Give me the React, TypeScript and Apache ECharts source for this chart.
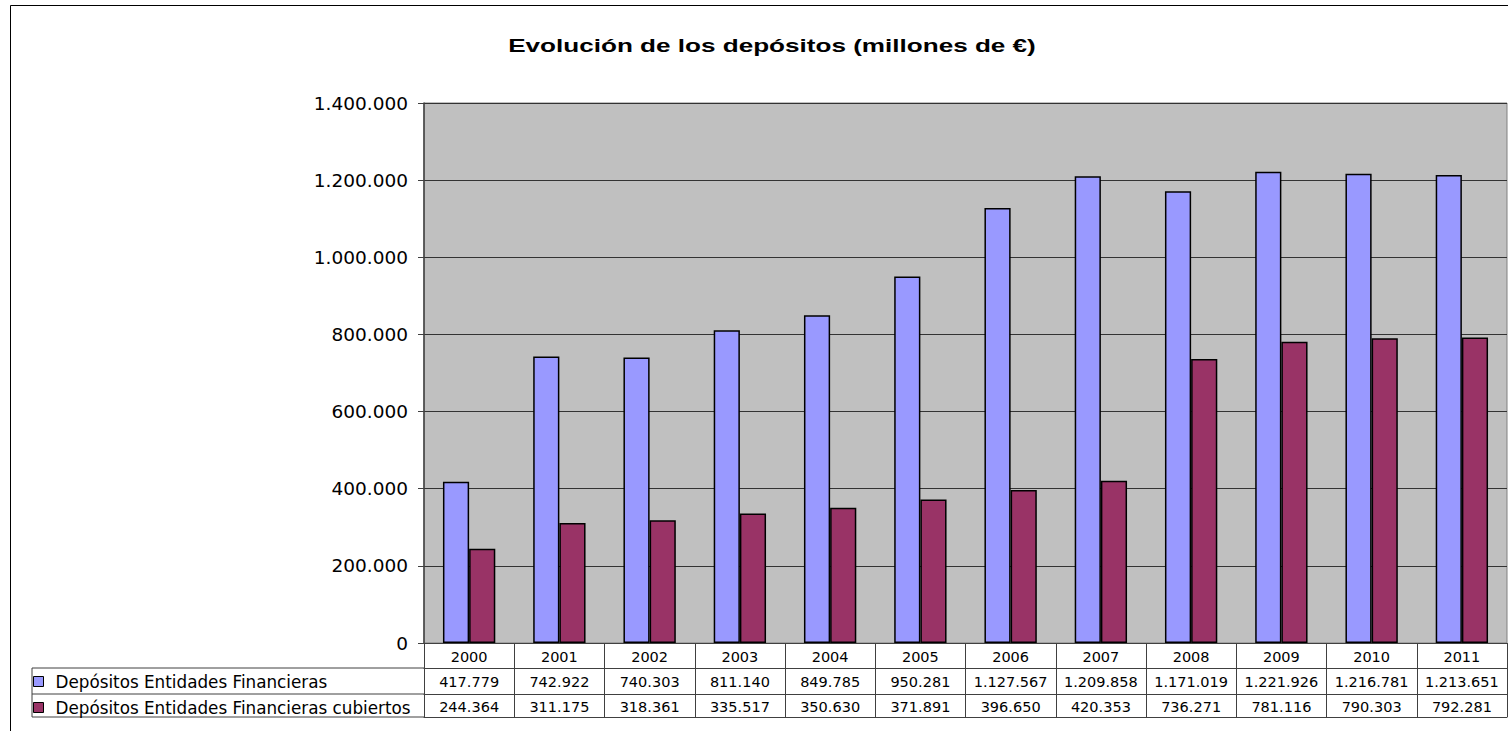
import React, { useEffect, useRef } from "react";
import * as echarts from "echarts";

const years = ["2000", "2001", "2002", "2003", "2004", "2005", "2006", "2007", "2008", "2009", "2010", "2011"];
const depositos = [417779, 742922, 740303, 811140, 849785, 950281, 1127567, 1209858, 1171019, 1221926, 1216781, 1213651];
const cubiertos = [244364, 311175, 318361, 335517, 350630, 371891, 396650, 420353, 736271, 781116, 790303, 792281];
const seriesNames = ["Depósitos Entidades Financieras", "Depósitos Entidades Financieras cubiertos"];
const title = "Evolución de los depósitos (millones de €)";

const fmt = (v: number) => String(v).replace(/\B(?=(\d{3})+(?!\d))/g, ".");
const FONT = "'Liberation Sans', Arial, Helvetica, sans-serif";
const WFONT = "'DejaVu Sans', 'Liberation Sans', Arial, sans-serif";
const LINE = "#404040";

export default function App() {
  const ref = useRef<HTMLDivElement>(null);
  useEffect(() => {
    if (!ref.current) return;
    const chart = echarts.init(ref.current, undefined, { renderer: "svg" });
    const tableAxis = (offset: number, tickLen: number, labels: ((i: number) => string) | null, margin: number) => ({
      type: "category" as const,
      data: years,
      position: "bottom" as const,
      gridIndex: 0,
      offset,
      boundaryGap: true,
      axisLine: { show: true, lineStyle: { color: LINE, width: 1 } },
      axisTick: { show: tickLen > 0, length: tickLen, alignWithLabel: false, interval: 0, lineStyle: { color: LINE, width: 1 } },
      axisLabel: {
        show: !!labels,
        interval: 0,
        margin,
        color: "#000",
        fontSize: 14.5,
        fontFamily: WFONT,
        formatter: (_v: string, i: number) => (labels ? labels(i) : ""),
      },
      splitLine: { show: false },
    });
    chart.setOption({
      animation: false,
      backgroundColor: "#fff",
      grid: {
        left: 424,
        right: 1,
        top: 103,
        bottom: 88,
        show: true,
        backgroundColor: "#C0C0C0",
        borderColor: "#808080",
        borderWidth: 1,
      },
      legend: {
        orient: "vertical",
        left: 28,
        top: 668,
        itemWidth: 10,
        itemHeight: 10,
        itemGap: 9,
        icon: "rect",
        selectedMode: false,
        itemStyle: { borderColor: "#000", borderWidth: 1 },
        textStyle: { fontSize: 16.8, lineHeight: 16, fontFamily: WFONT, color: "#000", padding: [0, 0, 0, 7] },
        data: seriesNames,
      },
      xAxis: [
        tableAxis(0, 25, (i) => years[i], 6),
        tableAxis(25, 26, (i) => fmt(depositos[i]), 6),
        tableAxis(51, 23, (i) => fmt(cubiertos[i]), 5),
        tableAxis(74, 0, null, 5),
      ],
      yAxis: {
        type: "value",
        min: 0,
        max: 1400000,
        interval: 200000,
        axisLine: { show: true, lineStyle: { color: LINE, width: 1.5 } },
        axisTick: { show: true, length: 6, lineStyle: { color: LINE } },
        axisLabel: { color: "#000", fontSize: 18.5, fontFamily: WFONT, margin: 16, formatter: (v: number) => fmt(v) },
        splitLine: { show: true, lineStyle: { color: "#333", width: 1 } },
      },
      series: [
        {
          name: seriesNames[0],
          type: "bar",
          xAxisIndex: 0,
          data: depositos,
          barGap: "0%",
          barCategoryGap: "42%",
          itemStyle: { color: "#9999FF", borderColor: "#000", borderWidth: 1.5 },
        },
        {
          name: seriesNames[1],
          type: "bar",
          xAxisIndex: 0,
          data: cubiertos,
          barGap: "0%",
          barCategoryGap: "42%",
          itemStyle: { color: "#993366", borderColor: "#000", borderWidth: 1.5 },
        },
      ],
      graphic: [
        {
          type: "text",
          x: 772,
          y: 46,
          scaleX: 1.45,
          silent: true,
          style: {
            text: title,
            align: "center",
            verticalAlign: "middle",
            fontSize: 18,
            fontWeight: "bold",
            fontFamily: FONT,
            fill: "#000",
          },
        },
        { type: "rect", shape: { x: 10.5, y: 5.5, width: 1700, height: 900 }, style: { fill: "none", stroke: "#000", lineWidth: 1 }, silent: true },
        { type: "line", shape: { x1: 32, y1: 668, x2: 424, y2: 668 }, style: { stroke: LINE, lineWidth: 1 }, silent: true },
        { type: "line", shape: { x1: 32, y1: 694, x2: 424, y2: 694 }, style: { stroke: LINE, lineWidth: 1 }, silent: true },
        { type: "line", shape: { x1: 32, y1: 717, x2: 424, y2: 717 }, style: { stroke: LINE, lineWidth: 1 }, silent: true },
        { type: "line", shape: { x1: 32, y1: 668, x2: 32, y2: 717 }, style: { stroke: LINE, lineWidth: 1 }, silent: true },
      ],
    });
    return () => chart.dispose();
  }, []);
  return <div ref={ref} style={{ position: "fixed", left: 0, top: 0, width: 1508, height: 731 }} />;
}
